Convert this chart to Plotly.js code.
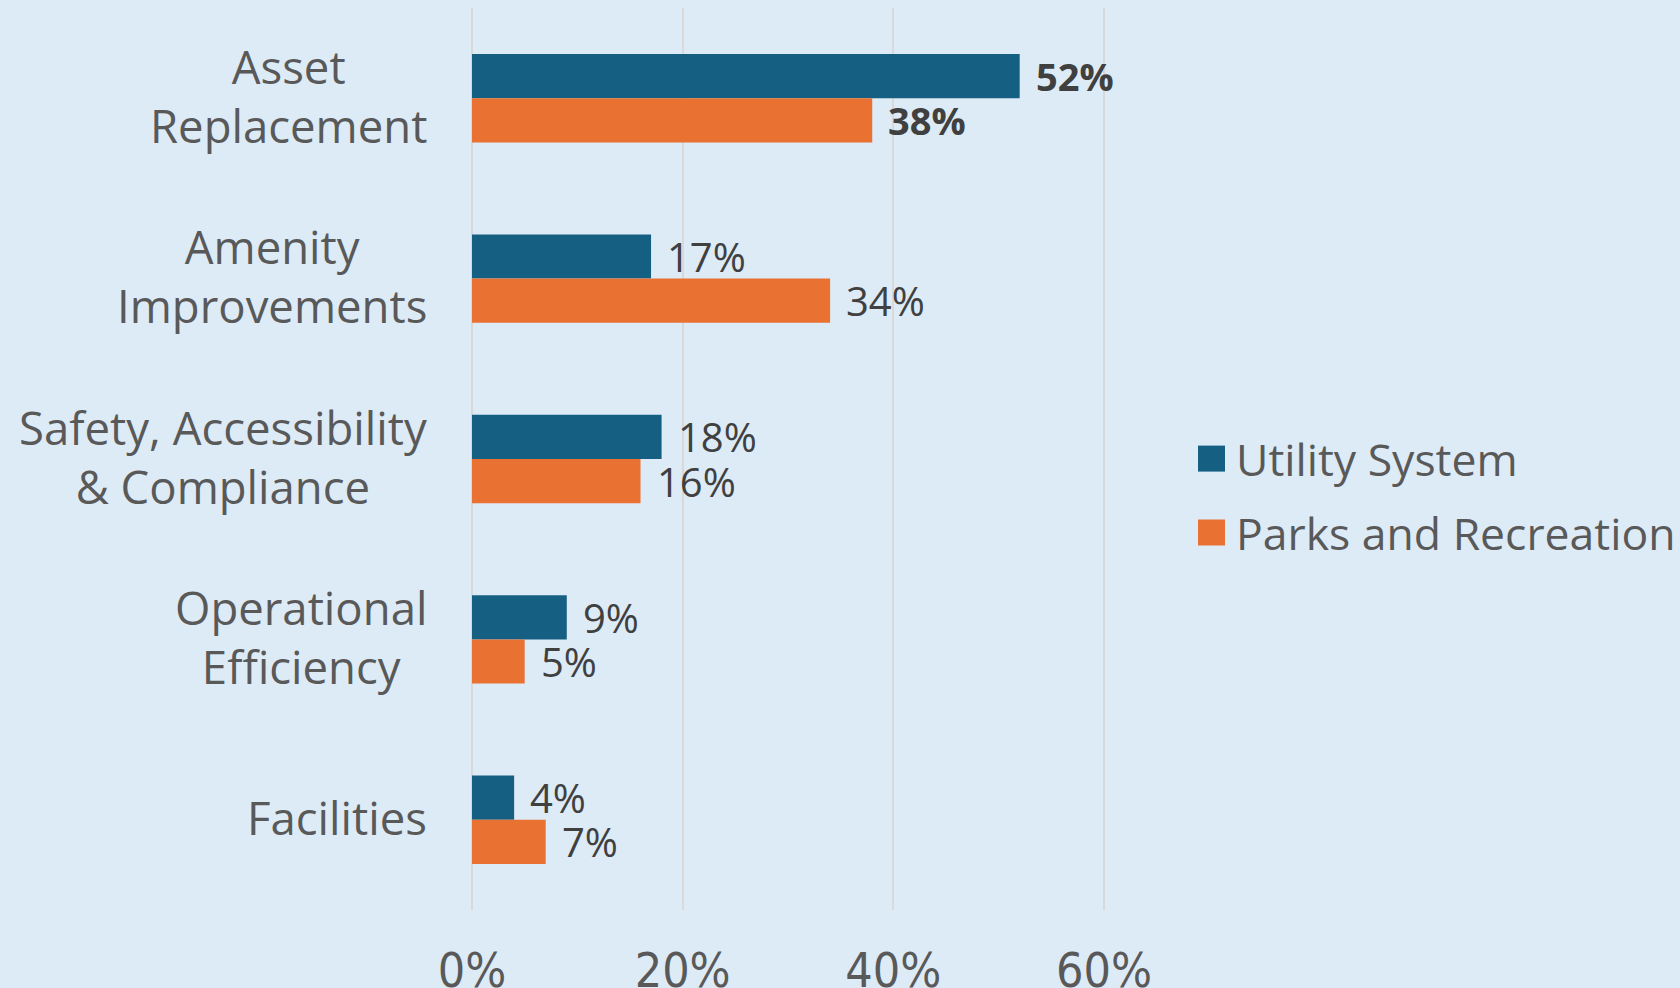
<!DOCTYPE html>
<html>
<head>
<meta charset="utf-8">
<script src="https://cdn.plot.ly/plotly-3.0.1.min.js"></script>
<style>
  html, body { margin: 0; padding: 0; background: #DDEBF7; }
  #chart { width: 1680px; height: 988px; }
</style>
</head>
<body>
<div id="chart"></div>
<script>
const categories = ['Asset<br>Replacement', 'Amenity<br>Improvements', 'Safety, Accessibility<br>& Compliance', 'Operational<br>Efficiency', 'Facilities'];
const utilityValues = [52, 17, 18, 9, 4];
const parksValues = [38, 34, 16, 5, 7];
const seriesNames = ['Utility System', 'Parks and Recreation'];
const xTickVals = [0, 20, 40, 60];
const xTickText = ['0%', '20%', '40%', '60%'];
const boldCategoryIndex = [0];

const W = 1680, H = 988;
const M = { l: 472, r: 555, t: 8, b: 78 };
const plotW = W - M.l - M.r, plotH = H - M.t - M.b;
const px2x = p => (p - M.l) / plotW;
const px2y = p => (H - M.b - p) / plotH;

const colors = ['#156082', '#E97132'];
const bargap = 0.51;
const half = (1 - bargap) / 4;

const traces = [utilityValues, parksValues].map((vals, k) => ({
  type: 'bar', orientation: 'h', name: seriesNames[k],
  y: categories, x: vals, marker: { color: colors[k] },
  showlegend: false, hoverinfo: 'skip'
}));

const annotations = [];
categories.forEach((c, i) => {
  annotations.push({
    xref: 'paper', yref: 'y', x: px2x(429), y: i, xanchor: 'right', yanchor: 'middle',
    yshift: 3, text: c, showarrow: false, align: 'center',
    font: { family: 'Open Sans, sans-serif', size: 45.5, color: '#595959' }
  });
});
[utilityValues, parksValues].forEach((vals, k) => {
  vals.forEach((v, i) => {
    const bold = boldCategoryIndex.includes(i);
    annotations.push({
      xref: 'x', yref: 'y', x: v, y: i + (k === 0 ? -half : half),
      xanchor: 'left', yanchor: 'middle', xshift: bold ? 14 : 14, showarrow: false,
      text: v + '%',
      font: bold ? { family: 'Open Sans, sans-serif', size: 38, color: '#404040', weight: 'bold' }
                 : { family: 'Open Sans, sans-serif', size: 40, color: '#404040' }
    });
  });
});
const shapes = [];
const legendRows = [458.6, 532.5];
seriesNames.forEach((n, k) => {
  const cy = legendRows[k];
  shapes.push({ type: 'rect', xref: 'paper', yref: 'paper',
    x0: px2x(1198), x1: px2x(1225), y0: px2y(cy + 13), y1: px2y(cy - 13),
    fillcolor: colors[k], line: { width: 0 } });
  annotations.push({ xref: 'paper', yref: 'paper', x: px2x(1234), y: px2y(cy),
    xanchor: 'left', yanchor: 'middle', showarrow: false, text: n,
    font: { family: 'Open Sans, sans-serif', size: 44.5, color: '#595959' } });
});

const layout = {
  width: W, height: H, margin: M,
  paper_bgcolor: '#DDEBF7', plot_bgcolor: '#DDEBF7',
  barmode: 'group', bargap: bargap, bargroupgap: 0,
  showlegend: false,
  xaxis: {
    range: [0, 62], tickvals: xTickVals, ticktext: xTickText,
    showgrid: true, gridcolor: '#D9D9D9', gridwidth: 2,
    zeroline: true, zerolinecolor: '#D9D9D9', zerolinewidth: 2,
    showline: false, ticks: '', ticklabelstandoff: 28,
    tickfont: { family: 'Liberation Sans Narrow, Arial Narrow, DejaVu Sans Condensed, sans-serif', size: 48, color: '#595959' }
  },
  yaxis: {
    type: 'category', autorange: 'reversed', showticklabels: false,
    showgrid: false, zeroline: false, showline: false, ticks: ''
  },
  annotations: annotations, shapes: shapes
};

Plotly.newPlot('chart', traces, layout, { staticPlot: true, displayModeBar: false });
</script>
</body>
</html>
